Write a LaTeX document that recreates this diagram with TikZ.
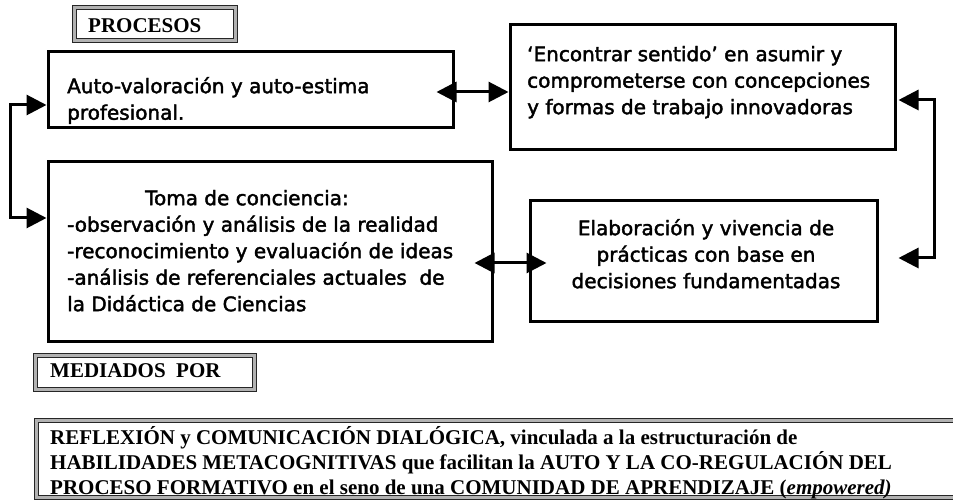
\documentclass[tikz,border=0pt]{standalone}
\usepackage{fontspec}
\setmainfont{DejaVu Sans}[BoldFont={DejaVu Sans}, BoldFeatures={FakeBold=2}]
\newfontfamily\timesb{Liberation Serif}
\usetikzlibrary{arrows.meta}
\newcommand\fstrut{\rule{0pt}{20pt}}
\tikzset{
  box/.style={draw, line width=3pt, inner sep=0pt, anchor=center},
  frame/.style={draw=black!85, line width=1pt, double=gray!60, double distance=3pt, inner sep=0pt, anchor=center},
  ctext/.style={font=\bfseries\fontsize{20}{26.5}\selectfont, inner sep=0pt, anchor=north west},
  ttext/.style={font=\timesb\bfseries\fontsize{21}{25}\selectfont, inner sep=0pt},
  con/.style={line width=3pt, {Triangle[length=20pt,width=20pt]}-{Triangle[length=20pt,width=20pt]}},
}
\begin{document}
\begin{tikzpicture}[x=1pt,y=1pt]
\useasboundingbox (0,0) rectangle (953,502);
% frames
\node[frame, minimum width=161pt, minimum height=33pt] (fproc) at (155,478) {};
\node[ttext, anchor=base west] (tproc) at (88,469) {PROCESOS};
\node[frame, minimum width=219pt, minimum height=34pt] (fmed) at (145,129.5) {};
\node[ttext, anchor=base west] (tmed) at (50,124) {MEDIADOS\ \ POR};
\node[frame, minimum width=963pt, minimum height=77pt] (fbot) at (518,43) {};
\node[ttext, anchor=north west, align=left] (tbot) at (50,78) {\fstrut REFLEXIÓN y COMUNICACIÓN DIALÓGICA, vinculada a la estructuración de\\HABILIDADES METACOGNITIVAS que facilitan la AUTO Y LA CO-REGULACIÓN DEL\\PROCESO FORMATIVO en el seno de una COMUNIDAD DE APRENDIZAJE (\textit{empowered)}};
% boxes
\node[box, minimum width=405pt, minimum height=76pt] (boxA) at (250.5,412) {};
\node[box, minimum width=385pt, minimum height=125pt] (boxB) at (702.5,414.5) {};
\node[box, minimum width=444pt, minimum height=180pt] (boxC) at (270,250) {};
\node[box, minimum width=347pt, minimum height=121pt] (boxD) at (703.5,240.5) {};
% texts
\node[ctext, align=left] (tA) at (67,429) {\fstrut Auto-valoración y auto-estima\\profesional.};
\node[ctext, align=left] (tB) at (527,461) {\fstrut `Encontrar sentido' en asumir y\\comprometerse con concepciones\\y formas de trabajo innovadoras};
\node[ctext, align=left] (tC) at (67,317) {\fstrut\hspace*{78pt}Toma de conciencia:\\-observación y análisis de la realidad\\-reconocimiento y evaluación de ideas\\-análisis de referenciales actuales\ \ de\\la Didáctica de Ciencias};
\node[ctext, align=center, anchor=north] (tD) at (706,287) {\fstrut Elaboración y vivencia de\\prácticas con base en\\decisiones fundamentadas};
% connectors
\draw[con] ([yshift=-15pt]boxA.west) -- ++(-36pt,0) |- ([yshift=34pt]boxC.west);
\draw[con] ([xshift=-18pt,yshift=-2pt]boxA.east) -- ([yshift=-4.5pt]boxB.west);
\draw[con] ([xshift=2pt,yshift=-12.5pt]boxB.east) -- ++(36pt,0) coordinate (rc) |- ([xshift=20pt,yshift=3.5pt]boxD.east);
\draw[con] ([xshift=-19pt,yshift=-11pt]boxC.east) -- ([xshift=18pt,yshift=-1.5pt]boxD.west);
\end{tikzpicture}
\end{document}
